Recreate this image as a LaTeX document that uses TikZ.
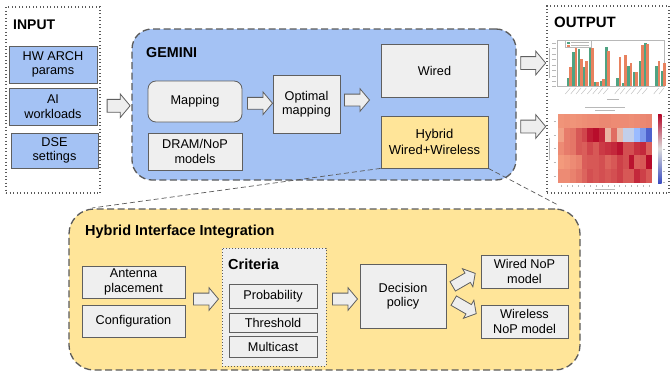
\documentclass[tikz,border=0pt]{standalone}
\usepackage{fontspec}
\setmainfont{Liberation Sans}
\usetikzlibrary{shapes.arrows,calc}
\definecolor{bordc}{HTML}{5F5F5F}
\definecolor{dashc}{HTML}{5A5A5A}
\definecolor{boxgray}{HTML}{EFEFEF}
\definecolor{arrgray}{HTML}{EEEEEE}
\definecolor{gemblue}{HTML}{A4C2F4}
\definecolor{hyel}{HTML}{FFE599}
\definecolor{bargreen}{HTML}{4FA382}
\definecolor{barorange}{HTML}{E8825F}
\definecolor{chartgray}{HTML}{B8B8B8}
\definecolor{cwred}{HTML}{B40426}
\definecolor{cwsal}{HTML}{F39A7C}
\definecolor{cwmid}{HTML}{DDDCDC}
\definecolor{cwlb}{HTML}{9ABBFF}
\definecolor{cwblue}{HTML}{3B4CC0}
\newcommand\hmcolor[1]{%
  \ifnum#1>50\relax
    \pgfmathtruncatemacro\hmt{(#1-50)*2}\colorlet{hc}{cwred!\hmt!cwsal}%
  \else\ifnum#1>-1\relax
    \pgfmathtruncatemacro\hmt{#1*2}\colorlet{hc}{cwsal!\hmt!cwmid}%
  \else\ifnum#1>-51\relax
    \pgfmathtruncatemacro\hmt{-(#1)*2}\colorlet{hc}{cwlb!\hmt!cwmid}%
  \else
    \pgfmathtruncatemacro\hmt{(-(#1)-50)*2}\colorlet{hc}{cwblue!\hmt!cwlb}%
  \fi\fi\fi}
\newcommand\lblfont{\fontsize{12.7}{14.5}\selectfont}
\tikzset{
  box/.style={draw=bordc, fill=boxgray, line width=0.8pt, inner sep=0pt,
    align=center, font=\lblfont},
  bluebox/.style={box, fill=gemblue},
  yelbox/.style={box, fill=hyel},
  dashcont/.style={draw=dashc, line width=1.3pt, dash pattern=on 7pt off 3.5pt,
    rounded corners=#1, inner sep=0pt},
  dotcont/.style={draw=dashc, line width=1.1pt, dash pattern=on 0.9pt off 2.6pt,
    inner sep=0pt},
  titletext/.style={font=\bfseries\fontsize{14.5}{16}\selectfont, inner sep=0pt},
  barrow/.style={single arrow, draw=bordc, fill=arrgray, line width=0.8pt,
    inner xsep=0pt, outer sep=0pt, single arrow tip angle=100,
    single arrow head indent=0pt},
  zoomline/.style={draw=dashc, line width=0.7pt, dash pattern=on 5pt off 3pt},
  chartline/.style={draw=chartgray, line width=0.4pt}
}
\begin{document}
\begin{tikzpicture}[x=1pt,y=-1pt]
\useasboundingbox (0,0) rectangle (672,372);

% ---------------- INPUT ----------------
\node[dotcont, minimum width=94pt, minimum height=186pt] (input) at (53,100) {};
\node[titletext, font=\bfseries\fontsize{14}{16}\selectfont, anchor=west] (inlbl) at (13,25) {INPUT};
\node[bluebox, minimum width=88pt, minimum height=37pt] (hw) at (53,64.5) {HW ARCH\\params};
\node[bluebox, minimum width=88pt, minimum height=37pt] (ai) at (53,106.5) {AI\\workloads};
\node[bluebox, minimum width=87pt, minimum height=35pt] (dse) at (54.5,150.5) {DSE\\settings};

% ---------------- OUTPUT ----------------
\node[dotcont, minimum width=122pt, minimum height=187pt] (output) at (608,99.5) {};
\node[titletext, font=\bfseries\fontsize{15}{17}\selectfont, anchor=west] (outlbl) at (554,22) {OUTPUT};

% bar chart
\node[draw=chartgray, line width=0.4pt, fill=white, inner sep=0pt,
  minimum width=107pt, minimum height=46pt] (barchart) at (610.5,63) {};
\foreach \x/\t in {70/145,86/65,102/58,118/110,136/55,152/155,168/153,184/52,
  218/145,234/158,251/107,267/125,285/93,301/40,335/108,351/122}
  \fill[bargreen] ({545+\x/3-1.2},86) rectangle ({545+\x/3+1.2},{30+\t/3});
\foreach \x/\t in {77/110,93/52,109/88,125/93,143/55,158/157,175/148,191/62,
  225/82,241/76,258/100,274/125,292/45,308/43,342/92,358/100}
  \fill[barorange] ({545+\x/3-1.2},86) rectangle ({545+\x/3+1.2},{30+\t/3});
\draw[chartline, fill=white] (565,40.5) rectangle (591,47.5);
\fill[bargreen] (566.5,41.5) rectangle (569.5,43.5);
\fill[barorange] (566.5,44.5) rectangle (569.5,46.5);
\draw[chartline] (571,42.5) -- (589,42.5) (571,45.5) -- (589,45.5);
\foreach \y in {43,48,54,59,65,70,76,81,86}
  \draw[chartline] (552,\y) -- (556,\y);
\draw[chartline] (549.5,48) -- (549.5,78);
\foreach \x in {70,86,102,118,136,152,168,184,218,234,251,267,285,301,335,351}
  \draw[chartline] ({545+\x/3+2},88) -- ++(-5,6);
\draw[chartline] (607,99) -- (619,99);

% heatmap
\draw[chartline] (585,107.5) -- (625,107.5) (595,110.5) -- (615,110.5);
\foreach \row [count=\r] in {
  {52,53,52,53,54,55,55,56,56,55,55,55,54,55,56,57},
  {45,60,62,72,78,92,97,88,30,65,25,-20,-20,-50,-65,-90},
  {55,60,62,72,70,78,72,82,85,88,95,75,75,85,88,70},
  {50,52,55,58,70,72,72,75,68,72,80,75,95,70,72,98},
  {55,55,58,62,68,75,72,75,72,75,80,72,72,88,80,72}}
{
  \foreach \v [count=\c] in \row {
    \hmcolor{\v}
    \fill[hc] ({558+(\c-1)*5.875},{114+(\r-1)*13.8}) rectangle ++(5.9,13.9);
  }
}
\coordinate (hmtl) at (558,114);
\shade[top color=cwred, bottom color=cwblue, middle color=cwmid] (658,114) rectangle (661.5,183);
\foreach \c in {0,...,15}
  \draw[chartline] ({560.9+\c*5.875},185) -- ++(0,1.5);
\draw[chartline] (595,189) -- (615,189);
\foreach \r in {0,...,4}
  \draw[chartline] (553.5,{120.9+\r*13.8}) -- ++(2.5,0);
\draw[chartline] (549.5,138) -- (549.5,160);
\foreach \r in {0,...,6}
  \draw[chartline] (662.5,{116+\r*11}) -- ++(2,0);

% ---------------- GEMINI ----------------
\node[dashcont=20pt, fill=gemblue, minimum width=384pt, minimum height=151pt] (gemini) at (324,104.5) {};
\node[titletext, font=\bfseries\fontsize{14.3}{16}\selectfont, anchor=west] (gemlbl) at (146,53) {GEMINI};
\node[box, rounded corners=8pt, minimum width=94pt, minimum height=41pt] (mapping) at (195,101.5) {Mapping};
\node[box, minimum width=94pt, minimum height=37pt] (dram) at (195,151.5) {DRAM/NoP\\models};
\node[box, minimum width=67pt, minimum height=58pt] (optimal) at (306.5,104) {Optimal\\mapping};
\node[box, minimum width=107pt, minimum height=53pt] (wired) at (434.5,70.5) {Wired};
\node[yelbox, font=\fontsize{13}{15.5}\selectfont, minimum width=107pt, minimum height=52pt] (hybrid) at (434.5,142) {Hybrid\\Wired+Wireless};

% block arrows
\node[barrow, minimum height=23pt, inner ysep=6pt, single arrow head extend=5.5pt] (a1) at ($(input.east)!0.5!(gemini.west)+(0,3.5)$) {};
\node[barrow, minimum height=25pt, inner ysep=5.5pt, single arrow head extend=5.5pt] (a2) at ($(mapping.east)!0.5!(optimal.west)+(0,0.5)$) {};
\node[barrow, minimum height=25pt, inner ysep=5.5pt, single arrow head extend=5.5pt] (a3) at (354.5,100) {};
\node[barrow, minimum height=25pt, inner ysep=6pt, single arrow head extend=5.5pt] (a4) at (530.5,63) {};
\node[barrow, minimum height=25pt, inner ysep=6pt, single arrow head extend=5.5pt] (a5) at (530.5,126.5) {};

% ---------------- HYBRID INTERFACE ----------------
\node[dashcont=25pt, fill=hyel, minimum width=511pt, minimum height=161pt] (hii) at (324.5,289.5) {};
\coordinate (zl) at (92,208);
\coordinate (zr) at (558,205);
\draw[zoomline] (hybrid.south west) -- (zl);
\draw[zoomline] (hybrid.south east) -- (zr);
\node[titletext, anchor=west] (hiilbl) at (85,232) {Hybrid Interface Integration};
\node[box, minimum width=103pt, minimum height=32pt] (antenna) at (133.5,282) {Antenna\\placement};
\node[box, minimum width=103pt, minimum height=32pt] (config) at (133.5,321) {Configuration};
\node[dotcont, fill=boxgray, line width=0.9pt, dash pattern=on 0.8pt off 2.2pt,
  minimum width=104pt, minimum height=118pt] (criteria) at (274,307) {};
\node[titletext, anchor=west] (critlbl) at (228,264) {Criteria};
\node[box, minimum width=88pt, minimum height=24pt] (prob) at (273,296) {Probability};
\node[box, minimum width=88pt, minimum height=19pt] (thresh) at (273,322.5) {Threshold};
\node[box, minimum width=88pt, minimum height=21pt] (multi) at (273,346.5) {Multicast};
\node[box, minimum width=86pt, minimum height=64pt] (decision) at (403,296) {Decision\\policy};
\node[box, minimum width=87pt, minimum height=33pt] (wirednop) at (524.5,271.5) {Wired NoP\\model};
\node[box, minimum width=87pt, minimum height=33pt] (wirelessnop) at (524.5,321.5) {Wireless\\NoP model};

\node[barrow, minimum height=25pt, inner ysep=5.5pt, single arrow head extend=5.5pt] (a6) at (203.5,299) {};
\node[barrow, minimum height=25pt, inner ysep=5.5pt, single arrow head extend=5.5pt] (a7) at (342.5,299) {};
\node[barrow, rotate=30, minimum height=26pt, inner ysep=5pt, single arrow head extend=5pt] (a8) at (462,281) {};
\node[barrow, rotate=-30, minimum height=26pt, inner ysep=5pt, single arrow head extend=5pt] (a9) at (463,306) {};
\end{tikzpicture}
\end{document}
